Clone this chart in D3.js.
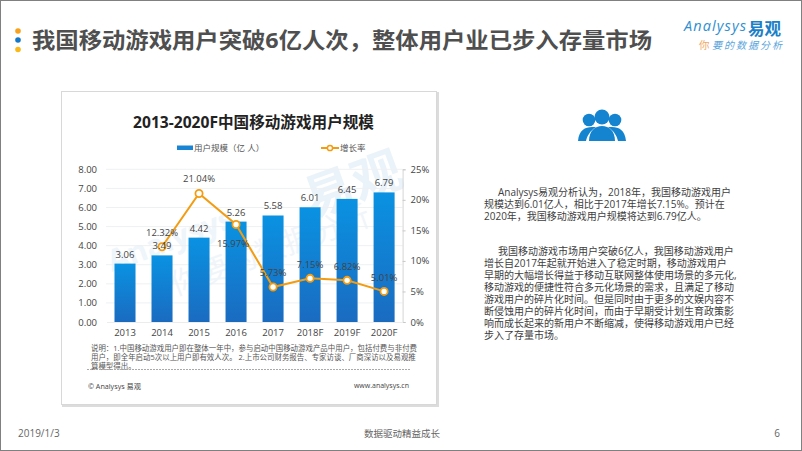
<!DOCTYPE html>
<html><head><meta charset="utf-8">
<script src="https://cdn.jsdelivr.net/npm/d3@7/dist/d3.min.js"></script>
<style>html,body{margin:0;padding:0;background:#fff}svg{display:block}text{font-family:"Open Sans","Noto Sans CJK SC",sans-serif}</style>
</head><body><svg id="c" width="802" height="451"></svg>
<script>
const categories=["2013","2014","2015","2016","2017","2018F","2019F","2020F"];
const users=[3.06,3.49,4.42,5.26,5.58,6.01,6.45,6.79];
const growth=[null,12.32,21.04,15.97,5.73,7.15,6.82,5.01];
const leftTicks=[0,1,2,3,4,5,6,7,8];
const rightTicks=[0,5,10,15,20,25];
const pageTitle="我国移动游戏用户突破6亿人次，整体用户业已步入存量市场";
const chartTitle="2013-2020F中国移动游戏用户规模";
const noteLines=["说明：1.中国移动游戏用户即在整体一年中，参与启动中国移动游戏产品中用户，包括付费与非付费","用户，即全年启动5次以上用户即有效人次。 2.上市公司财务报告、专家访谈、厂商深访以及易观推","算模型得出。"];
const para1=["Analysys易观分析认为，2018年，我国移动游戏用户","规模达到6.01亿人，相比于2017年增长7.15%。预计在","2020年，我国移动游戏用户规模将达到6.79亿人。"];
const para2=["我国移动游戏市场用户突破6亿人，我国移动游戏用户","增长自2017年起就开始进入了稳定时期，移动游戏用户","早期的大幅增长得益于移动互联网整体使用场景的多元化,","移动游戏的便捷性符合多元化场景的需求，且满足了移动","游戏用户的碎片化时间。但是同时由于更多的文娱内容不","断侵蚀用户的碎片化时间，而由于早期受计划生育政策影","响而成长起来的新用户不断缩减，使得移动游戏用户已经","步入了存量市场。"];

const svg=d3.select("#c");
const T=(x,y,s,size,fill,anchor,weight)=>svg.append("text").attr("x",x).attr("y",y).text(s).attr("font-size",size).attr("fill",fill).attr("text-anchor",anchor||"start").attr("font-weight",weight||400);

// page frame
svg.append("rect").attr("x",.5).attr("y",.5).attr("width",801).attr("height",450).attr("fill","#fff").attr("stroke","#808080");
// bullets
[["#f7a11c",31],["#1478c8",40],["#f9b91a",49.5]].forEach(d=>svg.append("circle").attr("cx",18).attr("cy",d[1]).attr("r",2.8).attr("fill",d[0]));
T(32,48,pageTitle,22,"#4f4f4f","start",700).attr("textLength",620).attr("lengthAdjust","spacingAndGlyphs");

// logo
T(684,31,"Analysys",14.5,"#2f8fd0","start",400).attr("font-style","italic").attr("textLength",62);
T(748,34.5,"易观",16.5,"#1a80c8","start",700);
T(699,49,"你",10.5,"#f0a868");
T(712,49,"要的数据分析",10,"#5aa5dc").attr("font-style","italic").attr("textLength",70);

// chart card
svg.append("rect").attr("x",62).attr("y",92).attr("width",377).attr("height",315).attr("fill","#dcdcdc");
svg.append("rect").attr("x",61.5).attr("y",91.5).attr("width",375).attr("height",313).attr("fill","#fff").attr("stroke","#d8d8d8");
T(253.5,127.5,chartTitle,15.6,"#222","middle",700);

const x=d3.scaleBand().domain(categories).range([106.5,402.6]).paddingInner(.432).paddingOuter(.216);
const yL=d3.scaleLinear().domain([0,8]).range([322,169.3]);
const yR=d3.scaleLinear().domain([0,25]).range([322,169.3]);
const cx=c=>x(c)+x.bandwidth()/2;

const defs=svg.append("defs");
const g=defs.append("linearGradient").attr("id","bar").attr("x1",0).attr("y1",0).attr("x2",0).attr("y2",1);
g.append("stop").attr("offset",0).attr("stop-color","#0a92e2");
g.append("stop").attr("offset",1).attr("stop-color","#1a6bc0");

// watermark
const wm=svg.append("g").attr("font-weight",700);
wm.append("text").attr("x",312).attr("y",218).attr("font-size",50).attr("fill","#eaf3fa").attr("transform","rotate(-20 312 218)").text("易观");
wm.append("text").attr("x",112).attr("y",272).attr("font-size",30).attr("fill","#eef5fb").attr("transform","rotate(-20 112 272)").text("Analysys");
wm.append("text").attr("x",175).attr("y",296).attr("font-size",30).attr("font-weight",400).attr("fill","#f0f5fa").attr("transform","rotate(-20 175 296)").text("你要的数据分析");

// grid
svg.append("g").selectAll("line").data(leftTicks.slice(1)).join("line")
 .attr("x1",106).attr("x2",402.6).attr("y1",d=>yL(d)).attr("y2",d=>yL(d)).attr("stroke","#eef0f2");

// axes
const axL=svg.append("g").attr("transform","translate(106,0)").call(d3.axisLeft(yL).tickValues(leftTicks).tickFormat(d3.format(".2f")).tickSize(0).tickPadding(9));
axL.select(".domain").remove();
const axR=svg.append("g").attr("transform","translate(402.6,0)").call(d3.axisRight(yR).tickValues(rightTicks).tickFormat(d=>d+"%").tickSize(3).tickPadding(5));
axR.select(".domain").attr("stroke","#d5d5d5");axR.selectAll("line").attr("stroke","#c8c8c8");
const axB=svg.append("g").attr("transform","translate(0,322)").call(d3.axisBottom(x).tickSize(0).tickPadding(7));
axB.select(".domain").attr("stroke","#ececec");
svg.selectAll(".tick text").attr("font-size",9.5).attr("fill","#444").style("font-family",'"Open Sans",sans-serif');

// bars
svg.append("g").selectAll("rect").data(categories).join("rect")
 .attr("x",c=>x(c)).attr("width",x.bandwidth())
 .attr("y",(c,i)=>yL(users[i])).attr("height",(c,i)=>322-yL(users[i])).attr("fill","url(#bar)");

// line
const pts=categories.map((c,i)=>({c,v:growth[i]})).filter(d=>d.v!==null);
svg.append("path").datum(pts).attr("fill","none").attr("stroke","#f39c12").attr("stroke-width",2)
 .attr("d",d3.line().x(d=>cx(d.c)).y(d=>yR(d.v)));
svg.append("g").selectAll("circle").data(pts).join("circle")
 .attr("cx",d=>cx(d.c)).attr("cy",d=>yR(d.v)).attr("r",3.6).attr("fill","#fff").attr("stroke","#f39c12").attr("stroke-width",1.8);

// labels
categories.forEach((c,i)=>T(cx(c),yL(users[i])-6,users[i].toFixed(2),9.5,"#444","middle"));
const gOff=[0,-11,-11,23,-11,-10,-10,-10.5];
const gDx=[0,0,0,-3,0,0,0,0];
pts.forEach(d=>{const i=categories.indexOf(d.c);T(cx(d.c)+gDx[i],yR(d.v)+gOff[i],d.v.toFixed(2)+"%",9.5,"#444","middle");});

// legend
svg.append("rect").attr("x",177).attr("y",145.5).attr("width",16).attr("height",4.5).attr("fill","#1a84d4");
T(194,151,"用户规模（亿 人）",8.5,"#555");
svg.append("line").attr("x1",321).attr("x2",339).attr("y1",148).attr("y2",148).attr("stroke","#f39c12").attr("stroke-width",2);
svg.append("circle").attr("cx",330).attr("cy",148).attr("r",2.6).attr("fill","#fff").attr("stroke","#f39c12").attr("stroke-width",1.5);
T(340,151,"增长率",8.5,"#555");

// notes
noteLines.forEach((s,i)=>T(91,351+i*9,s,7.45,"#555"));
svg.append("line").attr("x1",87).attr("x2",410).attr("y1",369.5).attr("y2",369.5).attr("stroke","#aaa").attr("stroke-dasharray","2 1");
T(88,389,"© Analysys 易观",7.2,"#444");
T(409,388,"www.analysys.cn",7,"#444","end");

// people icon
const ic=svg.append("g").attr("fill","#1484d0");
[[589,120,6.3],[615,120,6.3]].forEach(d=>ic.append("circle").attr("cx",d[0]).attr("cy",d[1]).attr("r",d[2]));
ic.append("path").attr("d","M578 141 C579 130 585 127 592 127 L596 127 C590 131 587 136 586 141 Z");
ic.append("path").attr("d","M626 141 C625 130 619 127 612 127 L608 127 C614 131 617 136 618 141 Z");
ic.append("circle").attr("cx",602).attr("cy",117).attr("r",7.5);
ic.append("path").attr("d","M589 141 C589 131 595 126 602 126 C609 126 615 131 615 141 Z");

// paragraphs
const bw=(s,x0,y)=>T(x0,y,s,10,"#404040");
para1.forEach((s,i)=>bw(s,i?484:498,195.5+i*12.3));
para2.forEach((s,i)=>bw(s,i?484:498,254.5+i*12.1));

// footer
T(18,437,"2019/1/3",10,"#666");
T(402,437,"数据驱动精益成长",9.5,"#666","middle");
T(780,437,"6",10,"#666","end");
</script></body></html>
